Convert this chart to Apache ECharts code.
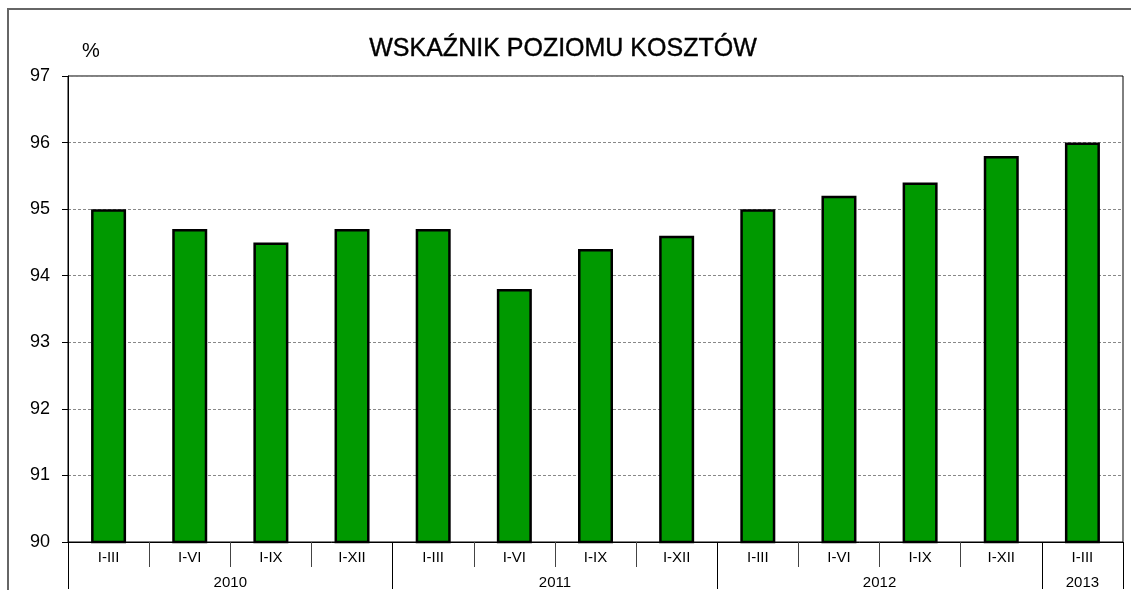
<!DOCTYPE html>
<html>
<head>
<meta charset="utf-8">
<script src="https://cdn.jsdelivr.net/npm/echarts@6/dist/echarts.min.js"></script>
<style>
  html, body { margin: 0; padding: 0; background: #fff; }
  #chart { width: 1131px; height: 590px; }
</style>
</head>
<body>
<div id="chart"></div>
<script>
// chart data
const quarters = ["I-III", "I-VI", "I-IX", "I-XII", "I-III", "I-VI", "I-IX", "I-XII", "I-III", "I-VI", "I-IX", "I-XII", "I-III"];
const values = [95.0, 94.7, 94.5, 94.7, 94.7, 93.8, 94.4, 94.6, 95.0, 95.2, 95.4, 95.8, 96.0];
const years = ["2010", "2011", "2012", "2013"];
const yearSpans = [4, 4, 4, 1];
const yTicks = [90, 91, 92, 93, 94, 95, 96, 97];

// year boundaries and centres on the 0..13 scale
const yearBounds = [0];
const yearCenters = [];
yearSpans.forEach((s) => {
  const start = yearBounds[yearBounds.length - 1];
  yearCenters.push(start + s / 2);
  yearBounds.push(start + s);
});

const font = "Liberation Sans, Arial, sans-serif";
const chart = echarts.init(document.getElementById("chart"));

const option = {
  animation: false,
  title: [
    {
      text: "WSKAŹNIK POZIOMU KOSZTÓW",
      left: 558,
      top: 32,
      textAlign: "center",
      textStyle: {
        fontFamily: font, fontSize: 25, fontWeight: "normal", color: "#000",
        textBorderColor: "#000", textBorderWidth: 0.4,
      },
    },
    {
      text: "%",
      left: 77,
      top: 36,
      textStyle: { fontFamily: font, fontSize: 20, fontWeight: "normal", color: "#000" },
    },
  ],
  graphic: [
    {
      type: "rect",
      silent: true,
      shape: { x: 8, y: 9, width: 1200, height: 700 },
      style: { fill: "none", stroke: "#666", lineWidth: 2 },
    },
  ],
  grid: {
    left: 68,
    right: 8,
    top: 76,
    bottom: 47,
    show: true,
    borderColor: "#000",
    borderWidth: 1,
  },
  xAxis: [
    {
      type: "category",
      data: quarters,
      position: "bottom",
      axisLine: { lineStyle: { color: "#000", width: 1 } },
      axisTick: { show: true, interval: 0, length: 25, lineStyle: { color: "#444" } },
      axisLabel: { interval: 0, margin: 8, fontFamily: font, fontSize: 15, color: "#000" },
    },
    {
      type: "value",
      min: 0,
      max: quarters.length,
      position: "bottom",
      axisLine: { show: false },
      splitLine: { show: false },
      axisTick: { show: true, customValues: yearBounds, length: 47, lineStyle: { color: "#000" } },
      axisLabel: {
        customValues: yearCenters,
        margin: 33,
        fontFamily: font,
        fontSize: 15,
        color: "#000",
        formatter: (v) => years[yearCenters.indexOf(v)] || "",
      },
    },
  ],
  yAxis: {
    type: "value",
    min: yTicks[0],
    max: yTicks[yTicks.length - 1],
    interval: 1,
    axisLine: { show: true, lineStyle: { color: "#000" } },
    axisTick: { show: true, length: 6, lineStyle: { color: "#000" } },
    axisLabel: { margin: 18, fontFamily: font, fontSize: 18, color: "#000" },
    splitLine: { show: true, lineStyle: { color: "#888", type: [3, 2], width: 1 } },
  },
  series: [
    {
      type: "bar",
      xAxisIndex: 0,
      data: values,
      barWidth: 35,
      itemStyle: { color: "#009900", borderColor: "#000", borderWidth: 2.5 },
    },
  ],
};

chart.setOption(option);
</script>
</body>
</html>
